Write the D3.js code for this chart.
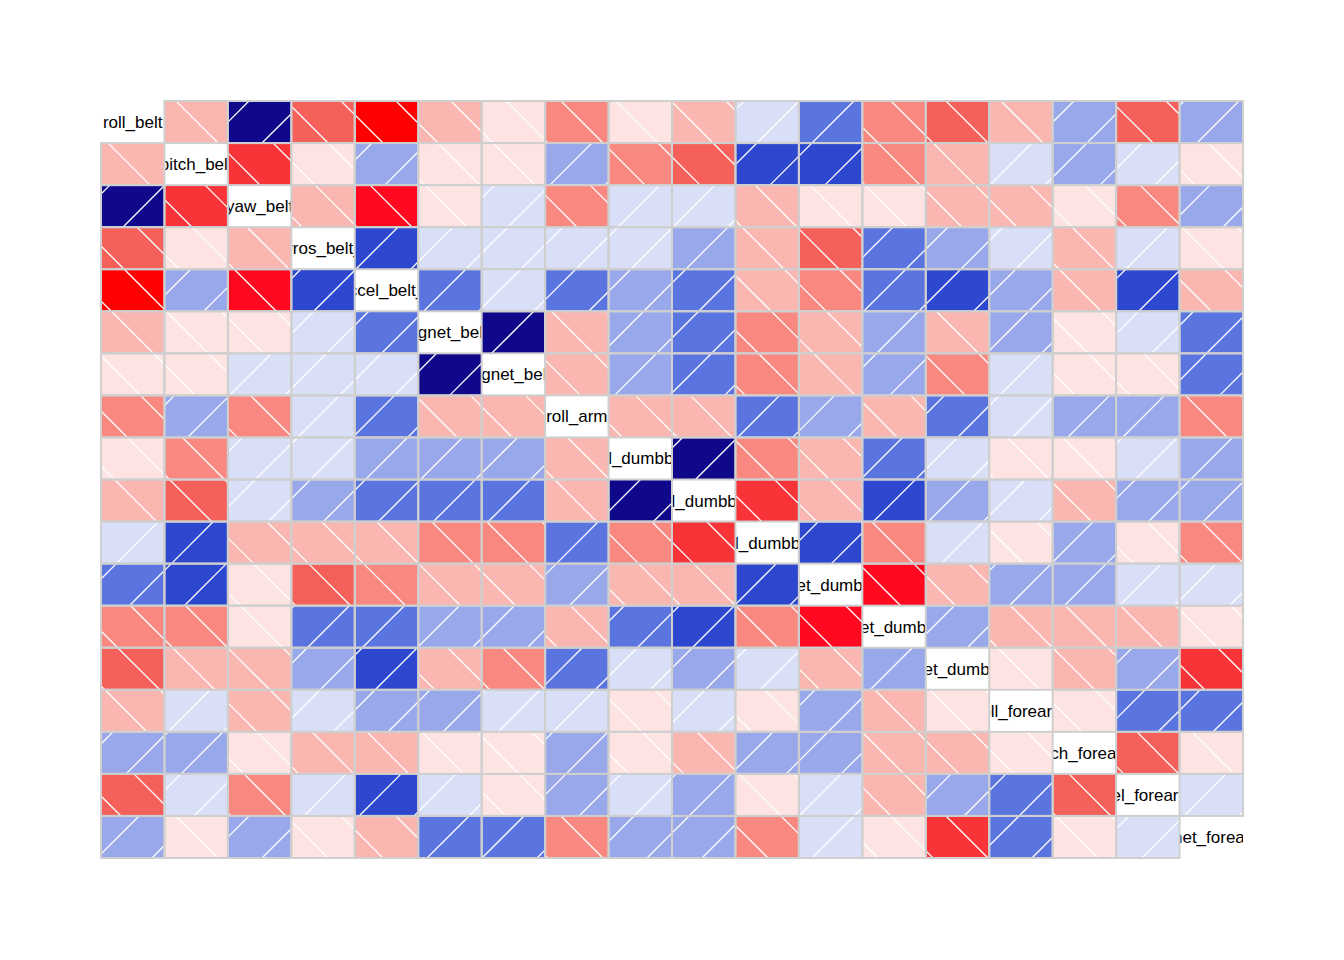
<!DOCTYPE html>
<html>
<head>
<meta charset="utf-8">
<style>
  body { margin: 0; background: #fff; }
  svg { display: block; }
</style>
</head>
<body>
<svg width="1344" height="960"></svg>
<script src="https://d3js.org/d3.v7.min.js"></script>
<script>

// variable names on the diagonal
const variables = [
  "roll_belt", "pitch_belt", "yaw_belt", "gyros_belt_x", "accel_belt_x",
  "magnet_belt_y", "magnet_belt_z", "roll_arm",
  "accel_dumbbell_x", "accel_dumbbell_y", "accel_dumbbell_z",
  "magnet_dumbbell_x", "magnet_dumbbell_y", "magnet_dumbbell_z",
  "roll_forearm", "pitch_forearm", "accel_forearm_x", "magnet_forearm_x"
];

// correlations, upper triangle, row i holds columns i+1 .. n
const upperRows = [
  [-0.21, 0.92, -0.50, -0.92, -0.21, -0.07, -0.36, -0.07, -0.21, 0.07, 0.36, -0.36, -0.50, -0.21, 0.21, -0.50, 0.21],
  [-0.64, -0.07, 0.21, -0.07, -0.07, 0.21, -0.36, -0.50, 0.50, 0.50, -0.36, -0.21, 0.07, 0.21, 0.07, -0.07],
  [-0.21, -0.80, -0.07, 0.07, -0.36, 0.07, 0.07, -0.21, -0.07, -0.07, -0.21, -0.21, -0.07, -0.36, 0.21],
  [0.50, 0.07, 0.07, 0.07, 0.07, 0.21, -0.21, -0.50, 0.36, 0.21, 0.07, -0.21, 0.07, -0.07],
  [0.36, 0.07, 0.36, 0.21, 0.36, -0.21, -0.36, 0.36, 0.50, 0.21, -0.21, 0.50, -0.21],
  [0.92, -0.21, 0.21, 0.36, -0.36, -0.21, 0.21, -0.21, 0.21, -0.07, 0.07, 0.36],
  [-0.21, 0.21, 0.36, -0.36, -0.21, 0.21, -0.36, 0.07, -0.07, -0.07, 0.36],
  [-0.21, -0.21, 0.36, 0.21, -0.21, 0.36, 0.07, 0.21, 0.21, -0.36],
  [0.92, -0.36, -0.21, 0.36, 0.07, -0.07, -0.07, 0.07, 0.21],
  [-0.64, -0.21, 0.50, 0.21, 0.07, -0.21, 0.21, 0.21],
  [0.50, -0.36, 0.07, -0.07, 0.21, -0.07, -0.36],
  [-0.80, -0.21, 0.21, 0.21, 0.07, 0.07],
  [0.21, -0.21, -0.21, -0.21, -0.07],
  [-0.07, -0.21, 0.21, -0.64],
  [-0.07, 0.36, 0.36],
  [-0.50, -0.07],
  [0.07]
];

// 14 shade classes from -1 to 1, red = negative, blue = positive
const shades = [
  "#ff0000", "#ff0820", "#f83438", "#f6605a", "#f88880", "#fab6b0", "#fde4e3",
  "#dadff8", "#98a8ea", "#5a75e0", "#2d48cf", "#1e2eae", "#160f9a", "#10088a"
];
const breaks = d3.range(1, 14).map(i => -1 + i * 2 / 14);

const margin = {left: 101, right: 1243, top: 101, bottom: 858};
const spacing = 55, phase = 20;

const svg = d3.select("svg");

const x = d3.scaleBand().domain(variables).range([margin.left, margin.right]);
const y = d3.scaleBand().domain(variables).range([margin.top, margin.bottom]);
const color = d3.scaleThreshold().domain(breaks).range(shades);

// build full symmetric matrix
const cells = [];
variables.forEach((rowVar, i) => {
  variables.forEach((colVar, j) => {
    if (i === j) return;
    const r = i < j ? upperRows[i][j - i - 1] : upperRows[j][i - j - 1];
    cells.push({row: rowVar, col: colVar, r: r});
  });
});

// shading lines at 45 degrees, "\" for negative, "/" for positive
function hatch(d) {
  const x0 = x(d.col), x1 = x0 + x.bandwidth();
  const y0 = y(d.row), y1 = y0 + y.bandwidth();
  const segs = [];
  if (d.r < 0) {
    const cMin = x0 - y1, cMax = x1 - y0;
    for (let c = Math.ceil((cMin - phase) / spacing) * spacing + phase; c < cMax; c += spacing) {
      const ya = Math.max(y0, x0 - c), yb = Math.min(y1, x1 - c);
      if (yb - ya > 0.5) segs.push([[c + ya, ya], [c + yb, yb]]);
    }
  } else {
    const cMin = x0 + y0, cMax = x1 + y1;
    for (let c = Math.ceil((cMin - phase) / spacing) * spacing + phase; c < cMax; c += spacing) {
      const ya = Math.max(y0, c - x1), yb = Math.min(y1, c - x0);
      if (yb - ya > 0.5) segs.push([[c - ya, ya], [c - yb, yb]]);
    }
  }
  return segs;
}

// shaded panels
const panels = svg.append("g");
panels.selectAll("rect").data(cells).enter().append("rect")
  .attr("x", d => x(d.col))
  .attr("y", d => y(d.row))
  .attr("width", x.bandwidth())
  .attr("height", y.bandwidth())
  .attr("fill", d => color(d.r));

const hatchLines = cells.flatMap(hatch);
panels.selectAll("line").data(hatchLines).enter().append("line")
  .attr("x1", d => d[0][0]).attr("y1", d => d[0][1])
  .attr("x2", d => d[1][0]).attr("y2", d => d[1][1])
  .attr("stroke", "#fff")
  .attr("stroke-width", 1.3);

// diagonal labels, clipped to their panel
const defs = svg.append("defs");
defs.selectAll("clipPath").data(variables).enter().append("clipPath")
  .attr("id", (d, i) => "diag" + i)
  .append("rect")
  .attr("x", d => x(d))
  .attr("y", d => y(d))
  .attr("width", x.bandwidth())
  .attr("height", y.bandwidth());

svg.append("g").selectAll("text").data(variables).enter().append("text")
  .attr("clip-path", (d, i) => "url(#diag" + i + ")")
  .attr("x", d => x(d) + x.bandwidth() / 2)
  .attr("y", d => y(d) + y.bandwidth() / 2 + 6)
  .attr("text-anchor", "middle")
  .attr("font-family", "Liberation Sans, Arial, sans-serif")
  .attr("font-size", "17px")
  .attr("fill", "#000")
  .text(d => d);

// panel borders
svg.append("g").selectAll("rect").data(cells).enter().append("rect")
  .attr("x", d => x(d.col))
  .attr("y", d => y(d.row))
  .attr("width", x.bandwidth())
  .attr("height", y.bandwidth())
  .attr("fill", "none")
  .attr("stroke", "#cfcfcf")
  .attr("stroke-width", 2);
</script>
</body>
</html>
